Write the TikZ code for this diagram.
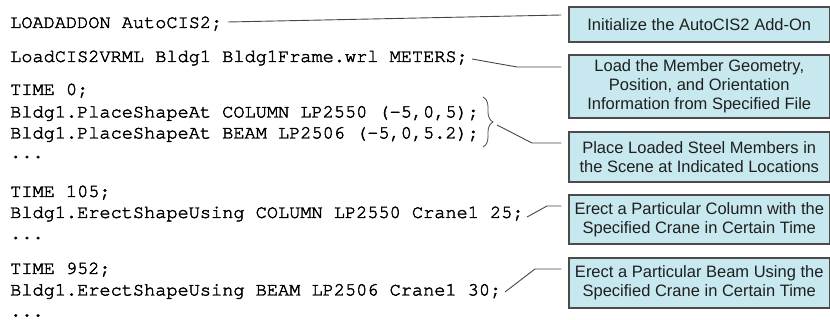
\documentclass[tikz,border=0pt]{standalone}
\usepackage{fontspec}
\setmainfont{Liberation Sans}
\newfontfamily\codefont{TeX Gyre Cursor}[FakeBold=2.2]
\newfontfamily\boxfont{Liberation Sans}
\usetikzlibrary{decorations.pathreplacing}
\definecolor{boxfill}{RGB}{198,232,238}
\definecolor{boxline}{RGB}{75,75,75}
\definecolor{connline}{RGB}{70,70,70}
\tikzset{
  code/.style={anchor=base west, inner sep=0pt, font=\codefont\fontsize{18.6}{21}\selectfont, text=black},
  note/.style={draw=boxline, line width=1.3pt, fill=boxfill, minimum width=260.5pt, inner sep=0pt,
    align=center, font=\boxfont\fontsize{16.5}{19}\selectfont, text=black!88},
  conn/.style={draw=connline, line width=0.9pt},
  bracestyle/.style={draw=connline, line width=0.8pt, decorate, decoration={brace, amplitude=10pt}},
}
\begin{document}
\begin{tikzpicture}[x=1pt, y=-1pt]
\useasboundingbox (0,0) rectangle (830,320);
% code lines
\node[code] (l1)  at (10,28)    {LOADADDON AutoCIS2;};
\node[code] (l2)  at (10,62)    {LoadCIS2VRML Bldg1 Bldg1Frame.wrl METERS;};
\node[code] (l3)  at (10,95)    {TIME 0;};
\node[code] (l4)  at (10,117.5) {Bldg1.PlaceShapeAt COLUMN LP2550 (-5,0,5);};
\node[code] (l5)  at (10,138.5) {Bldg1.PlaceShapeAt BEAM LP2506 (-5,0,5.2);};
\node[code] (l6)  at (10,158)   {...};
\node[code] (l7)  at (10,197)   {TIME 105;};
\node[code] (l8)  at (10,218)   {Bldg1.ErectShapeUsing COLUMN LP2550 Crane1 25;};
\node[code] (l9)  at (10,239)   {...};
\node[code] (l10) at (10,274)   {TIME 952;};
\node[code] (l11) at (10,295.5) {Bldg1.ErectShapeUsing BEAM LP2506 Crane1 30;};
\node[code] (l12) at (10,316.5) {...};
% boxes
\node[note, minimum height=35pt] (b1) at (699.25,24.5) {Initialize the AutoCIS2 Add-On};
\node[note, minimum height=63pt] (b2) at (699.25,86.5) {Load the Member Geometry,\\Position, and Orientation\\Information from Specified File};
\node[note, minimum height=50pt] (b3) at (699.25,157) {Place Loaded Steel Members in\\the Scene at Indicated Locations};
\node[note, minimum height=49pt] (b4) at (699.25,219.5) {Erect a Particular Column with the\\Specified Crane in Certain Time};
\node[note, minimum height=50pt] (b5) at (699.25,283) {Erect a Particular Beam Using the\\Specified Crane in Certain Time};
% brace
\draw[bracestyle] (483,97) -- (483,147);
% connector points
\coordinate (s1) at (228,22);
\coordinate (s2) at (472,59);
\coordinate (k2) at (517,67);
\coordinate (s3) at (497,125);
\coordinate (k3) at (532,143);
\coordinate (s4) at (527,217);
\coordinate (k4) at (547,206);
\coordinate (s5) at (505,292);
\coordinate (k5) at (535,269);
% connectors
\draw[conn] (s1) -- ([xshift=-7pt,yshift=9.5pt]b1.west);
\draw[conn] (s2) -- (k2) -- ([xshift=-7pt,yshift=19.5pt]b2.west);
\draw[conn] (s3) -- (k3) -- ([xshift=-7pt,yshift=14pt]b3.west);
\draw[conn] (s4) -- (k4) -- ([xshift=-7pt,yshift=13.5pt]b4.west);
\draw[conn] (s5) -- (k5) -- ([xshift=-7pt,yshift=14pt]b5.west);
\end{tikzpicture}
\end{document}
